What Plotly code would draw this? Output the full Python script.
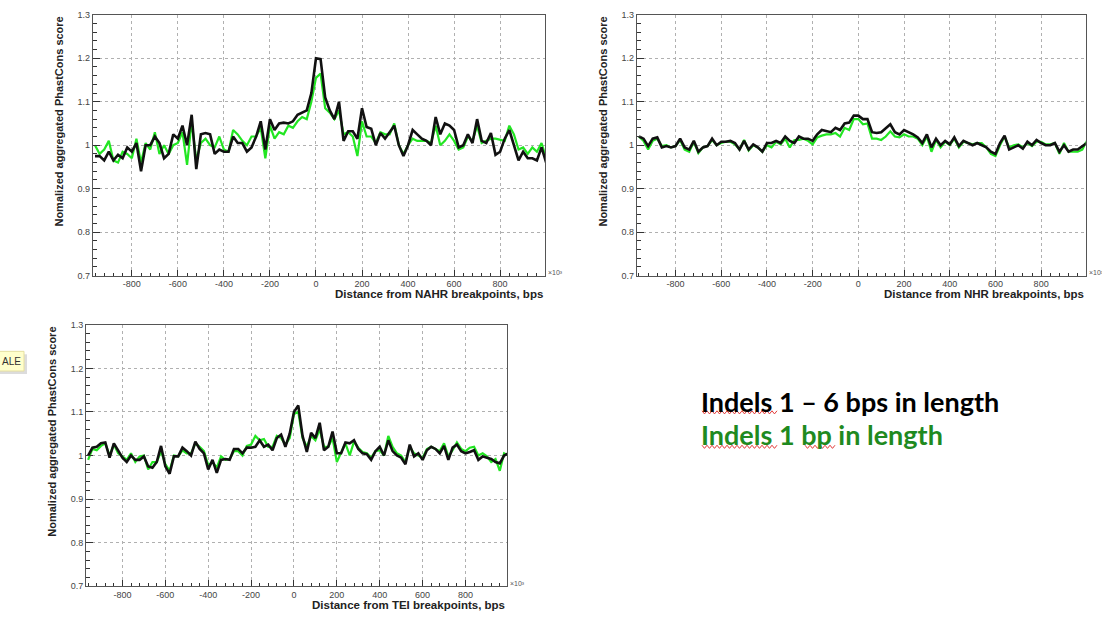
import plotly.graph_objects as go

W, H = 1102, 623

# bin centres (bps)
x_bins = list(range(-960, 1001, 20))

# ---- NAHR panel ----
nahr_black = [0.975, 0.975, 0.965, 0.985, 0.965, 0.978, 0.970, 0.995, 0.985, 1.005,
              0.940, 1.000, 1.000, 1.020, 1.005, 0.970, 0.980, 1.025, 1.015, 1.045,
              1.000, 1.070, 0.945, 1.025, 1.028, 1.025, 0.980, 0.990, 0.985, 0.985,
              1.020, 1.005, 1.005, 0.985, 0.995, 1.020, 1.055, 0.990, 1.060, 1.035,
              1.050, 1.052, 1.050, 1.055, 1.070, 1.075, 1.080, 1.120, 1.200, 1.198,
              1.110, 1.080, 1.060, 1.100, 1.010, 1.032, 1.032, 1.015, 1.085, 1.042,
              1.038, 1.000, 1.028, 1.015, 1.030, 1.045, 1.000, 0.975, 1.000, 1.035,
              1.025, 1.015, 1.010, 1.000, 1.065, 1.025, 1.050, 1.045, 1.035, 0.995,
              1.000, 1.025, 1.005, 1.060, 1.010, 1.005, 1.028, 0.978, 0.985, 1.015,
              1.035, 1.000, 0.965, 0.985, 0.970, 0.970, 0.965, 0.995, 0.960]
nahr_green = [1.000, 0.980, 0.990, 1.010, 0.965, 0.960, 0.985, 0.980, 0.970, 1.015,
              0.960, 1.005, 0.990, 1.030, 0.980, 1.000, 0.980, 1.000, 1.005, 1.030,
              0.955, 1.055, 0.965, 1.005, 1.015, 1.000, 0.995, 1.020, 0.990, 0.985,
              1.035, 1.025, 1.010, 1.000, 1.020, 1.020, 1.040, 0.970, 1.045, 1.015,
              1.030, 1.025, 1.045, 1.040, 1.055, 1.065, 1.060, 1.100, 1.155, 1.165,
              1.085, 1.075, 1.060, 1.080, 1.025, 1.030, 1.020, 0.975, 1.055, 1.020,
              1.020, 1.005, 1.030, 1.025, 1.025, 1.050, 1.000, 0.980, 1.000, 1.015,
              1.010, 1.010, 1.010, 1.005, 1.045, 1.000, 1.010, 1.025, 1.010, 0.990,
              0.995, 1.020, 1.010, 1.045, 1.005, 1.010, 1.015, 1.015, 1.012, 1.010,
              1.045, 1.025, 0.990, 0.995, 0.980, 0.995, 0.985, 1.005, 0.970]

# ---- NHR panel ----
nhr_black = [1.020, 1.015, 0.998, 1.015, 1.018, 0.995, 0.998, 0.995, 0.998, 1.015,
             0.995, 0.990, 1.010, 0.985, 0.995, 0.998, 1.015, 1.000, 1.008, 1.008,
             1.010, 1.005, 0.990, 1.010, 0.990, 1.002, 0.995, 0.985, 1.005, 1.005,
             1.010, 1.005, 1.020, 1.010, 1.005, 1.020, 1.015, 1.015, 1.010, 1.025,
             1.035, 1.032, 1.030, 1.040, 1.035, 1.050, 1.052, 1.068, 1.068, 1.060,
             1.060, 1.030, 1.028, 1.030, 1.038, 1.048, 1.030, 1.025, 1.035, 1.030,
             1.025, 1.018, 1.005, 1.025, 0.995, 1.015, 1.000, 1.010, 1.002, 1.018,
             0.998, 1.010, 1.005, 1.000, 1.005, 1.000, 0.995, 0.985, 0.980, 1.005,
             1.022, 0.990, 0.995, 1.000, 0.992, 1.008, 1.000, 1.012, 1.005, 1.000,
             1.000, 1.005, 0.985, 1.000, 0.985, 0.990, 0.990, 0.998, 1.005]
nhr_green = [1.020, 1.010, 0.990, 1.010, 1.015, 0.998, 1.000, 0.995, 0.998, 1.012,
             0.990, 0.985, 1.008, 0.982, 0.995, 0.998, 1.012, 1.000, 1.005, 1.008,
             1.008, 1.002, 0.990, 1.012, 0.988, 1.000, 0.995, 0.985, 1.000, 0.995,
             1.008, 1.002, 1.015, 0.995, 1.012, 1.012, 1.015, 1.010, 1.002, 1.018,
             1.022, 1.025, 1.025, 1.028, 1.020, 1.040, 1.035, 1.060, 1.060, 1.048,
             1.050, 1.015, 1.015, 1.012, 1.020, 1.032, 1.020, 1.018, 1.025, 1.020,
             1.020, 1.015, 1.000, 1.020, 0.985, 1.012, 0.995, 1.008, 1.000, 1.015,
             0.995, 1.008, 1.005, 1.002, 1.005, 1.005, 0.995, 0.980, 0.975, 1.000,
             1.020, 0.995, 1.000, 1.002, 0.995, 1.005, 0.998, 1.008, 1.008, 1.002,
             1.002, 1.005, 0.980, 1.005, 0.985, 0.985, 0.985, 0.990, 1.010]

# ---- TEI panel ----
tei_black = [1.000, 1.018, 1.020, 1.028, 1.030, 0.995, 1.028, 1.010, 0.995, 0.985,
             1.000, 0.990, 0.990, 0.998, 0.975, 0.972, 0.985, 1.022, 0.975, 0.958,
             0.998, 0.998, 1.018, 1.010, 1.000, 1.032, 1.015, 1.005, 0.968, 0.990,
             0.960, 0.990, 0.992, 0.990, 1.015, 1.015, 1.005, 1.018, 1.018, 1.020,
             1.035, 1.020, 1.025, 1.012, 1.040, 1.048, 1.020, 1.050, 1.100, 1.115,
             1.045, 1.008, 1.052, 1.040, 1.075, 1.012, 1.020, 1.055, 1.005, 1.005,
             1.030, 1.028, 1.035, 1.015, 1.005, 1.003, 0.990, 1.010, 1.020, 1.000,
             1.035, 1.010, 1.000, 0.995, 0.980, 1.025, 0.998, 1.005, 0.990, 1.012,
             1.020, 1.015, 1.005, 1.022, 0.990, 1.018, 1.025, 1.010, 1.005, 1.008,
             1.012, 0.990, 0.998, 0.995, 0.992, 0.985, 0.982, 1.000, 1.005]
tei_green = [0.990, 1.015, 1.012, 1.022, 1.028, 1.000, 1.025, 1.005, 0.998, 0.990,
             1.005, 0.985, 0.998, 1.000, 0.968, 0.985, 0.985, 1.010, 0.980, 0.965,
             1.000, 0.998, 1.012, 1.005, 1.005, 1.028, 1.020, 1.010, 0.978, 0.985,
             0.972, 0.998, 0.990, 0.992, 1.010, 1.010, 1.000, 1.022, 1.025, 1.045,
             1.035, 1.038, 1.020, 1.020, 1.045, 1.040, 1.025, 1.040, 1.095, 1.100,
             1.040, 1.020, 1.045, 1.035, 1.060, 1.020, 1.020, 1.040, 0.985, 1.005,
             1.028, 1.000, 1.032, 1.018, 1.008, 1.005, 0.995, 1.010, 1.012, 1.000,
             1.045, 1.020, 1.005, 1.000, 0.985, 1.020, 1.005, 1.000, 0.995, 1.015,
             1.020, 1.015, 1.010, 1.028, 0.998, 1.012, 1.030, 1.015, 1.010, 1.018,
             1.020, 1.000, 1.005, 0.998, 0.985, 0.992, 0.965, 1.005, 1.000]

y_tick_vals = [0.7, 0.8, 0.9, 1.0, 1.1, 1.2, 1.3]
y_tick_text = ["0.7", "0.8", "0.9", "1", "1.1", "1.2", "1.3"]
x_tick_vals = [-800, -600, -400, -200, 0, 200, 400, 600, 800]
x_tick_text = ["-800", "-600", "-400", "-200", "0", "200", "400", "600", "800"]

legend_lines = ["Indels 1 – 6 bps in length", "Indels 1 bp in length"]

panels = [
    dict(black=nahr_black, green=nahr_green, xt="Distance from NAHR breakpoints, bps",
         px=(92.7, 545.0), py=(10.0, 275.0)),
    dict(black=nhr_black, green=nhr_green, xt="Distance from NHR breakpoints, bps",
         px=(636.7, 1085.7), py=(10.0, 275.0)),
    dict(black=tei_black, green=tei_green, xt="Distance from TEI breakpoints, bps",
         px=(86.0, 507.3), py=(325.0, 590.7)),
]

GREEN = "#22e622"
tick_font = dict(family="Arial, Liberation Sans, sans-serif", size=9, color="#444444")
title_font = dict(family="Arial, Liberation Sans, sans-serif", size=11, color="#222222")

fig = go.Figure()
annotations = []
shapes = []

for i, p in enumerate(panels, start=1):
    xa = "x" if i == 1 else f"x{i}"
    ya = "y" if i == 1 else f"y{i}"
    fig.add_trace(go.Scatter(x=x_bins, y=p["green"], mode="lines", xaxis=xa, yaxis=ya,
                             line=dict(color=GREEN, width=2.2), showlegend=False,
                             cliponaxis=True))
    fig.add_trace(go.Scatter(x=x_bins, y=p["black"], mode="lines", xaxis=xa, yaxis=ya,
                             line=dict(color="#111111", width=2.6), showlegend=False,
                             cliponaxis=True))
    x0, x1 = p["px"][0] / W, p["px"][1] / W
    y0, y1 = 1 - p["py"][1] / H, 1 - p["py"][0] / H
    xkey = "xaxis" if i == 1 else f"xaxis{i}"
    ykey = "yaxis" if i == 1 else f"yaxis{i}"
    fig.update_layout(**{
        xkey: dict(domain=[x0, x1], anchor=ya, range=[-970, 995],
                   tickmode="array", tickvals=x_tick_vals, ticktext=x_tick_text,
                   ticks="inside", ticklen=6, tickcolor="#333", tickwidth=1,
                   minor=dict(ticks="inside", ticklen=3, dtick=40, tick0=0,
                              tickcolor="#333", showgrid=False),
                   showgrid=True, gridcolor="#b0b0b0", griddash="dot", gridwidth=1,
                   showline=True, linecolor="#555555", linewidth=1, mirror=True,
                   zeroline=False, tickfont=tick_font, fixedrange=True),
        ykey: dict(domain=[y0, y1], anchor=xa, range=[0.7, 1.3],
                   tickmode="array", tickvals=y_tick_vals, ticktext=y_tick_text,
                   ticks="inside", ticklen=7, tickcolor="#333", tickwidth=1,
                   minor=dict(ticks="inside", ticklen=4, dtick=0.02, tick0=0.7,
                              tickcolor="#333", showgrid=False),
                   showgrid=True, gridcolor="#b0b0b0", griddash="dot", gridwidth=1,
                   showline=True, linecolor="#555555", linewidth=1, mirror=True,
                   zeroline=False, tickfont=tick_font, fixedrange=True),
    })
    annotations.append(dict(text="<b>Nomalized aggregated PhastCons score</b>",
                            textangle=-90, xref="paper", yref="paper",
                            x=(p["px"][0] - 34) / W, y=y1, xanchor="center", yanchor="top",
                            showarrow=False, font=title_font))
    annotations.append(dict(text=f"<b>{p['xt']}</b>", xref="paper", yref="paper",
                            x=x1, y=1 - (p["py"][1] + 19) / H, xanchor="right",
                            yanchor="middle", showarrow=False,
                            font=dict(family=title_font["family"], size=11.5, color="#222222")))
    exp_x = min(x1 + 1 / W, 1.0)
    annotations.append(dict(text="×10³", xref="paper", yref="paper",
                            x=exp_x if exp_x < 0.99 else 1.0,
                            y=1 - (p["py"][1] - 3) / H,
                            xanchor="left" if exp_x < 0.99 else "right",
                            yanchor="middle", showarrow=False,
                            font=dict(family="Arial", size=7, color="#555555")))

# legend text
annotations.append(dict(text=f"<b>{legend_lines[0]}</b>", xref="paper", yref="paper",
                        x=699 / W, y=1 - 403 / H, xanchor="left", yanchor="middle",
                        showarrow=False, font=dict(family="Lato", size=27, color="#000000")))
annotations.append(dict(text=f"<b>{legend_lines[1]}</b>", xref="paper", yref="paper",
                        x=699 / W, y=1 - 437 / H, xanchor="left", yanchor="middle",
                        showarrow=False, font=dict(family="Lato", size=27, color="#1f8a1f")))


# red wavy spell-check underlines (decoration)
def squiggle(xa_px, xb_px, y_px, amp=1.6, step=2.5):
    pts = []
    k = 0
    xx = xa_px
    while xx <= xb_px:
        yy = y_px + (amp if k % 2 else -amp)
        pts.append((xx / W, 1 - yy / H))
        xx += step
        k += 1
    return "M " + " L ".join(f"{a:.5f},{b:.5f}" for a, b in pts)


for (xa_px, xb_px, y_px) in [(702, 778, 414), (702, 778, 449), (805, 836, 449)]:
    shapes.append(dict(type="path", xref="paper", yref="paper",
                       path=squiggle(xa_px, xb_px, y_px),
                       line=dict(color="#e23b3b", width=1)))

# small yellow note box at the left edge
shapes.append(dict(type="rect", xref="paper", yref="paper",
                   x0=0, x1=27 / W, y0=1 - 375 / H, y1=1 - 355 / H,
                   fillcolor="#dcdcdc", line=dict(width=0), layer="below"))
shapes.append(dict(type="rect", xref="paper", yref="paper",
                   x0=-2 / W, x1=24 / W, y0=1 - 372 / H, y1=1 - 352 / H,
                   fillcolor="#ffffcc", line=dict(color="#e6dfa0", width=1), layer="below"))
annotations.append(dict(text="ALE", xref="paper", yref="paper",
                        x=1 / W, y=1 - 362 / H, xanchor="left", yanchor="middle",
                        showarrow=False, borderpad=0,
                        font=dict(family="Liberation Sans", size=10, color="#333")))

fig.update_layout(width=W, height=H, margin=dict(l=0, r=0, t=0, b=0),
                  paper_bgcolor="white", plot_bgcolor="white",
                  annotations=annotations, shapes=shapes, showlegend=False)

fig.write_html("out.html")
